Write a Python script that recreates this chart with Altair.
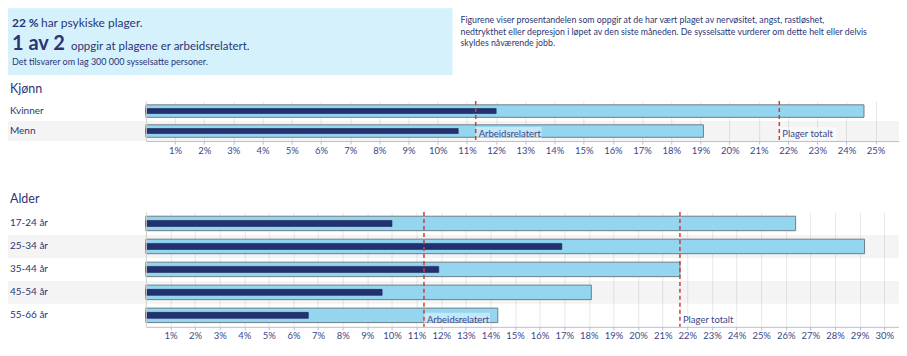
import altair as alt
import pandas as pd

FONT = "Lato"
NAVY = "#2b3574"
LABEL = "#3a4789"

# ---------------- data ----------------
gender_cats = ["Kvinner", "Menn"]
gender_total = [24.6, 19.1]
gender_work = [12.0, 10.7]

age_cats = ["17-24 år", "25-34 år", "35-44 år", "45-54 år", "55-66 år"]
age_total = [26.4, 29.2, 21.7, 18.1, 14.3]
age_work = [10.0, 16.9, 11.9, 9.6, 6.6]

ref_names = ["Arbeidsrelatert", "Plager totalt"]
ref_values = [11.3, 21.7]

gender_ticks = list(range(1, 26))
age_ticks = list(range(1, 31))

headline_bold = ["22 %"]
headline_rest = ["har psykiske plager."]
big_number = ["1 av 2"]
big_rest = ["oppgir at plagene er arbeidsrelatert."]
sub_line = ["Det tilsvarer om lag 300 000 sysselsatte personer."]
note_lines = [
    "Figurene viser prosentandelen som oppgir at de har vært plaget av nervøsitet, angst, rastløshet,",
    "nedtrykthet eller depresjon i løpet av den siste måneden. De sysselsatte vurderer om dette helt eller delvis",
    "skyldes nåværende jobb.",
]

W = 754
LEFT = -138


def txt(values, **kw):
    return alt.Chart(pd.DataFrame({"t": values})).mark_text(font=FONT, color=NAVY, **kw)


# ---------------- header ----------------
box = alt.Chart(pd.DataFrame({"d": [0]})).mark_rect(fill="#d5f1fc").encode(
    x=alt.value(LEFT), x2=alt.value(307), y=alt.value(0), y2=alt.value(67)
)
h1 = txt(headline_bold, align="left", baseline="middle", fontSize=12, fontWeight="bold").encode(
    x=alt.value(-134), y=alt.value(15), text="t:N")
h2 = txt(headline_rest, align="left", baseline="middle", fontSize=12).encode(
    x=alt.value(-105), y=alt.value(15), text="t:N")
h3 = txt(big_number, align="left", baseline="alphabetic", fontSize=20, fontWeight="bold").encode(
    x=alt.value(-134), y=alt.value(42), text="t:N")
h4 = txt(big_rest, align="left", baseline="alphabetic", fontSize=11.5).encode(
    x=alt.value(-75), y=alt.value(42), text="t:N")
h5 = txt(sub_line, align="left", baseline="middle", fontSize=9).encode(
    x=alt.value(-134), y=alt.value(54), text="t:N")
notes = [
    txt([line], align="left", baseline="middle", fontSize=8.8).encode(
        x=alt.value(315), y=alt.value(12 + 11.5 * i), text="t:N")
    for i, line in enumerate(note_lines)
]
header = alt.layer(box, h1, h2, h3, h4, h5, *notes).properties(width=W, height=67)


# ---------------- panels ----------------
def panel(title, cats, total, work, ticks, xmax, height, bar_size, dark_size, title_y):
    df = pd.DataFrame({
        "cat": cats,
        "total": total,
        "work": work,
        "stripe": [i % 2 == 1 for i in range(len(cats))],
    })
    xs = alt.Scale(domain=[0, xmax], nice=False, zero=True)
    ys = alt.Scale(domain=cats, paddingInner=0, paddingOuter=0)
    x_ax = alt.Axis(values=ticks, labelExpr="datum.value + '%'", grid=True, gridColor="#e8e8e8",
                    domainColor="#b8bedb", tickColor="#b8bedb", tickSize=3, labelColor=LABEL,
                    labelFont=FONT, labelFontSize=9.5, labelPadding=1, title=None, labelFlush=False)
    y_ax = alt.Axis(labels=False, ticks=False, domain=True, domainColor="#cfcfcf", grid=False, title=None)

    base = alt.Chart(df)
    stripes = base.transform_filter("datum.stripe").mark_rect(fill="#000000", opacity=0.045).encode(
        y=alt.Y("cat:N", scale=ys, axis=y_ax), x=alt.value(LEFT), x2=alt.value(W))
    bars = base.mark_bar(size=bar_size, color="#94d6f0", stroke="#6f7c84", strokeWidth=1).encode(
        x=alt.X("total:Q", scale=xs, axis=x_ax), y=alt.Y("cat:N", scale=ys, axis=y_ax))
    dark = base.mark_bar(size=dark_size, color="#233170", stroke="#18214f", strokeWidth=0.6).encode(
        x=alt.X("work:Q", scale=xs, axis=x_ax), y=alt.Y("cat:N", scale=ys, axis=y_ax))

    layers = [stripes, bars, dark]
    for name, val in zip(ref_names, ref_values):
        rdf = pd.DataFrame({"name": [name], "value": [val]})
        bw = len(name) * 4.2 + 3
        layers.append(
            alt.Chart(rdf).mark_rect(fill="#ffffff", opacity=0.45, x2Offset=bw).encode(
                x=alt.X("value:Q", scale=xs, axis=x_ax), x2="value:Q",
                y=alt.value(height - 14), y2=alt.value(height - 1)))
    ref = pd.DataFrame({"name": ref_names, "value": ref_values})
    rules = alt.Chart(ref).mark_rule(color="#c9403a", strokeDash=[4, 3], strokeWidth=1.5).encode(
        x=alt.X("value:Q", scale=xs, axis=x_ax))
    ref_text = alt.Chart(ref).mark_text(align="left", baseline="middle", dx=3, fontSize=9.5,
                                        font=FONT, color=LABEL).encode(
        x=alt.X("value:Q", scale=xs, axis=x_ax), y=alt.value(height - 7), text="name:N")
    labels = base.mark_text(align="left", baseline="middle", font=FONT, fontSize=10, color=NAVY).encode(
        y=alt.Y("cat:N", scale=ys, axis=y_ax), x=alt.value(LEFT + 2), text="cat:N")
    ttl = txt([title], align="left", baseline="middle", fontSize=12.5).encode(
        x=alt.value(LEFT + 2), y=alt.value(title_y), text="t:N")
    layers += [rules, ref_text, labels, ttl]
    return alt.layer(*layers).properties(width=W, height=height)


top = panel("Kjønn", gender_cats, gender_total, gender_work, gender_ticks, 25.8, 40, 12.5, 5, -12)
bottom = panel("Alder", age_cats, age_total, age_work, age_ticks, 30.6, 115, 14.5, 6, -13)

chart = alt.vconcat(
    header,
    alt.vconcat(top, bottom, spacing=38),
    spacing=8,
).properties(padding=0).configure_view(stroke=None)

chart.save("out.html", embed_options={"renderer": "svg", "actions": False})
